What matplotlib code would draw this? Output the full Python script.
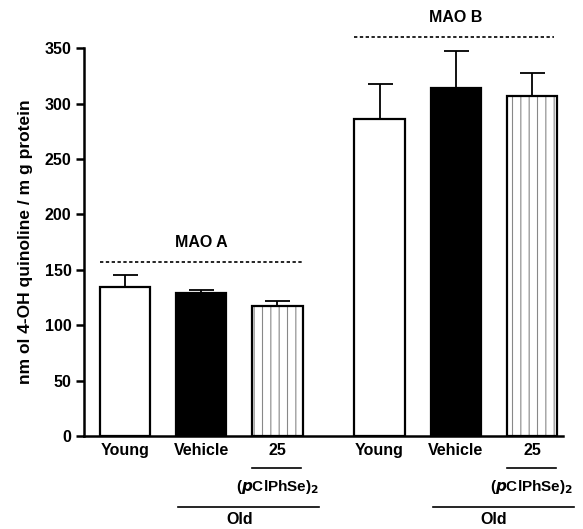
import numpy as np
import matplotlib
matplotlib.use("Agg")
import matplotlib.pyplot as plt
import matplotlib.transforms as mtransforms

plt.rcParams['font.family'] = ['Liberation Sans', 'DejaVu Sans']
plt.rcParams['font.weight'] = 'bold'
plt.rcParams['hatch.linewidth'] = 0.8

# data
groups = ["MAO A", "MAO B"]
labels = ["Young", "Vehicle", "25"]
mao_a = [134, 129, 117]
mao_a_err = [11, 3, 5]
mao_b = [286, 314, 307]
mao_b_err = [32, 33, 21]

pos = np.array([0, 1, 2, 3.34, 4.34, 5.34])
vals = mao_a + mao_b
errs = mao_a_err + mao_b_err
w = 0.66

fig = plt.figure(figsize=(5.83, 5.29), dpi=100)
ax = fig.add_axes([0.144, 0.176, 0.822, 0.733])

faces = ['white', 'black', 'white'] * 2
for i in range(6):
    if i % 3 == 2:
        ax.bar(pos[i], vals[i], w, color='white', edgecolor='#888888',
               hatch='||', linewidth=0, zorder=2)
        ax.bar(pos[i], vals[i], w, color='none', edgecolor='black',
               linewidth=1.6, zorder=3)
    else:
        ax.bar(pos[i], vals[i], w, color=faces[i], edgecolor='black',
               linewidth=1.6, zorder=3)
    ax.errorbar(pos[i], vals[i], yerr=[[0], [errs[i]]], fmt='none',
                ecolor='black', elinewidth=1.3, capsize=9, capthick=1.3, zorder=1)

ax.set_ylim(0, 350)
ax.set_xlim(-0.54, 5.75)
ax.set_yticks(np.arange(0, 351, 50))
ax.set_xticks(pos)
ax.set_xticklabels(labels * 2, fontsize=11.5, fontweight='bold')
ax.tick_params(axis='x', length=0, pad=5)
ax.tick_params(axis='y', length=6, width=1.8, labelsize=11.5, pad=3)
for s in ['top', 'right']:
    ax.spines[s].set_visible(False)
for s in ['left', 'bottom']:
    ax.spines[s].set_linewidth(1.8)

ax.set_ylabel("nm ol 4-OH quinoline / m g protein", fontsize=12.5,
              fontweight='bold', labelpad=8)

# group dashed lines and labels
ax.plot([-0.33, 2.32], [157, 157], ls=(0, (2, 1.5)), color='black', lw=1.2, clip_on=False)
ax.text(1.0, 168, "MAO A", ha='center', va='bottom', fontsize=11.5, fontweight='bold')
ax.plot([3.0, 5.63], [360, 360], ls=(0, (2, 1.5)), color='black', lw=1.2, clip_on=False)
ax.text(4.34, 371, "MAO B", ha='center', va='bottom', fontsize=11.5, fontweight='bold',
        clip_on=False)

# annotations under the axis
trans = mtransforms.blended_transform_factory(ax.transData, fig.transFigure)
for g in [0, 3.34]:
    ax.plot([g + 1.67, g + 2.31], [1 - 468 / 529] * 2, color='black', lw=1.2,
            transform=trans, clip_on=False)
    ax.text(g + 2, 1 - 487 / 529, r"($\it{p}$ClPhSe)$_2$", ha='center', va='center',
            fontsize=11, fontweight='bold', transform=trans)
    ax.plot([g + 0.7, g + 2.55], [1 - 507 / 529] * 2, color='black', lw=1.2,
            transform=trans, clip_on=False)
    ax.text(g + 1.5, 1 - 520 / 529, "Old", ha='center', va='center',
            fontsize=11.5, fontweight='bold', transform=trans)

fig.savefig("out.png", dpi=100)
